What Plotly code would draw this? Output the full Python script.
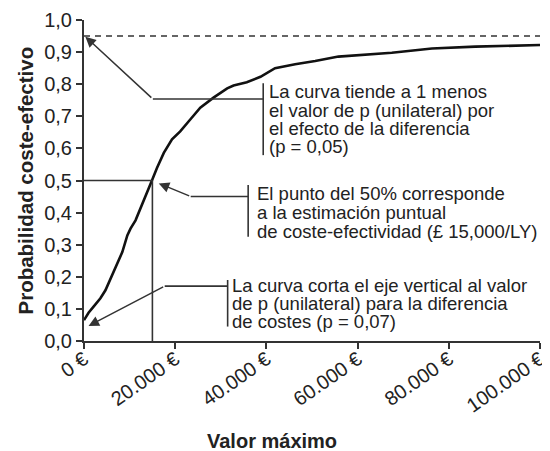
import plotly.graph_objects as go

# ---- data ----
wtp_values = [0, 1000, 2100, 3600, 4700, 5800, 7300, 8400, 9500, 10200, 11300, 12000,
              13800, 14900, 16000, 17500, 19300, 21100, 23300, 25500, 28400, 31400,
              32800, 35700, 38700, 41900, 46300, 50700, 55800, 60200, 67500, 76300,
              85800, 100000]
prob_ce = [0.065, 0.088, 0.107, 0.133, 0.158, 0.195, 0.241, 0.277, 0.329, 0.350, 0.376,
           0.399, 0.461, 0.500, 0.539, 0.586, 0.628, 0.653, 0.690, 0.727, 0.758, 0.787,
           0.796, 0.806, 0.823, 0.850, 0.862, 0.872, 0.886, 0.890, 0.898, 0.911,
           0.917, 0.922]
asymptote = 0.95
icer_point = 15000
half_prob = 0.5

x_tickvals = [0, 20000, 40000, 60000, 80000, 100000]
x_ticktext = ["0 €", "20.000 €", "40.000 €", "60.000 €", "80.000 €", "100.000 €"]
y_tickvals = [0.0, 0.1, 0.2, 0.3, 0.4, 0.5, 0.6, 0.7, 0.8, 0.9, 1.0]
y_ticktext = ["0,0", "0,1", "0,2", "0,3", "0,4", "0,5", "0,6", "0,7", "0,8", "0,9", "1,0"]

note1_lines = ["La curva tiende a 1 menos", "el valor de p (unilateral) por",
               "el efecto de la diferencia", "(p = 0,05)"]
note2_lines = ["El punto del 50% corresponde", "a la estimación puntual",
               "de coste-efectividad (£ 15,000/LY)"]
note3_lines = ["La curva corta el eje vertical al valor", "de p (unilateral) para la diferencia",
               "de costes (p = 0,07)"]

FONT = "Liberation Sans, Arial, Helvetica, sans-serif"
AX = "#333333"
TXT = "#222222"

fig = go.Figure()

# dashed asymptote
fig.add_trace(go.Scatter(x=[0, 100000], y=[asymptote, asymptote], mode="lines",
                         line=dict(color=AX, width=1.5, dash="6px,5px"),
                         hoverinfo="skip", showlegend=False))
# curve
fig.add_trace(go.Scatter(x=wtp_values, y=prob_ce, mode="lines",
                         line=dict(color="#111111", width=2.6),
                         showlegend=False))

shapes = []
def seg(x0, y0, x1, y1, w=1.6):
    shapes.append(dict(type="line", xref="x", yref="y", x0=x0, y0=y0, x1=x1, y1=y1,
                       line=dict(color=AX, width=w)))

# 50% guide lines
seg(0, half_prob, icer_point, half_prob)
seg(icer_point, 0, icer_point, half_prob)

annotations = []
def arrow(tip_x, tip_y, tail_x, tail_y):
    annotations.append(dict(x=tip_x, y=tip_y, ax=tail_x, ay=tail_y, xref="x", yref="y",
                            axref="x", ayref="y", text="", showarrow=True, arrowhead=2,
                            arrowsize=1.4, arrowwidth=1.5, arrowcolor=AX, standoff=0))

def note(lines, x_left, y_first, dy):
    for i, t in enumerate(lines):
        annotations.append(dict(x=x_left, y=y_first - i * dy, xref="x", yref="y",
                                text=t, showarrow=False, xanchor="left", yanchor="middle",
                                font=dict(family=FONT, size=18.5, color=TXT)))

# note 1
arrow(300, 0.948, 15100, 0.754)
seg(15100, 0.754, 39300, 0.754)
seg(39300, 0.803, 39300, 0.579)
note(note1_lines, 40200, 0.777, 0.0575)

# note 2
arrow(16400, 0.491, 23400, 0.450)
seg(23400, 0.450, 36000, 0.450)
seg(36000, 0.486, 36000, 0.325)
note(note2_lines, 37500, 0.460, 0.059)

# note 3
arrow(1000, 0.047, 17700, 0.171)
seg(17700, 0.171, 31500, 0.171)
seg(31500, 0.190, 31500, 0.045)
note(note3_lines, 32000, 0.174, 0.057)

# axis titles
annotations.append(dict(x=(272 - 84) / 456, y=(341 - 441) / 321, xref="paper", yref="paper",
                        text="<b>Valor máximo</b>", showarrow=False, xanchor="center",
                        yanchor="middle", font=dict(family=FONT, size=20, color=TXT)))
annotations.append(dict(x=(25 - 84) / 456, y=0.5, xref="paper", yref="paper",
                        text="<b>Probabilidad coste-efectivo</b>", showarrow=False,
                        textangle=-90, xanchor="center", yanchor="middle",
                        font=dict(family=FONT, size=20.5, color=TXT)))

# page body has an 8px default margin, so the figure is sized/offset to compensate
fig.update_layout(
    width=542, height=443,
    margin=dict(l=76, r=10, t=12, b=110, autoexpand=False),
    paper_bgcolor="white", plot_bgcolor="white",
    font=dict(family=FONT, color=TXT),
    shapes=shapes, annotations=annotations,
    xaxis=dict(range=[0, 100000], tickvals=x_tickvals, ticktext=x_ticktext,
               tickangle=-35, showgrid=False, zeroline=False, showline=True,
               linecolor=AX, linewidth=2, ticks="outside", ticklen=6, tickwidth=2,
               tickcolor=AX, tickfont=dict(family=FONT, size=20, color=TXT),
               ticklabelstandoff=-9, automargin=False),
    yaxis=dict(range=[0, 1], tickvals=y_tickvals, ticktext=y_ticktext,
               showgrid=False, zeroline=False, showline=True,
               linecolor=AX, linewidth=2, ticks="outside", ticklen=6, tickwidth=2,
               tickcolor=AX, tickfont=dict(family=FONT, size=20, color=TXT),
               automargin=False),
)

fig.write_html("out.html")
